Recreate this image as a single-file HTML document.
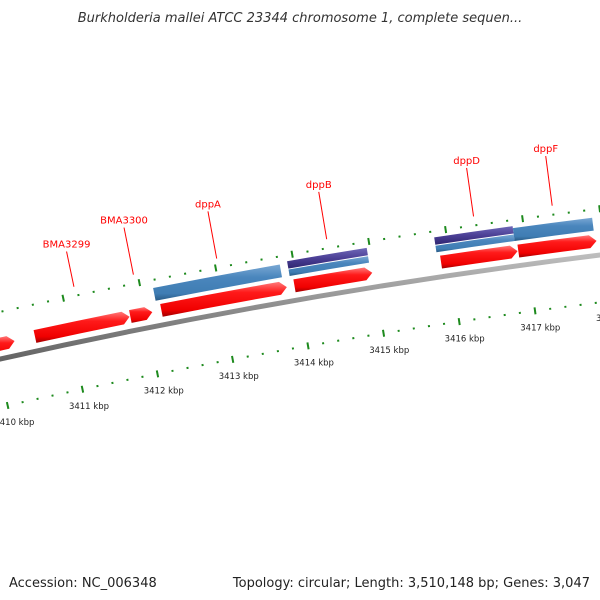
<!DOCTYPE html>
<html><head><meta charset="utf-8"><style>
html,body{margin:0;padding:0;background:#fff;}
svg{display:block;font-family:"DejaVu Sans","Liberation Sans",sans-serif;}
</style></head><body>
<svg id="map" width="600" height="600" viewBox="0 0 600 600" xmlns="http://www.w3.org/2000/svg">
<defs>
<linearGradient id="gRed" x1="0" y1="0" x2="0" y2="1"><stop offset="0" stop-color="#ff7a7a"/><stop offset="0.3" stop-color="#ff1a1a"/><stop offset="0.8" stop-color="#f00000"/><stop offset="1" stop-color="#a00000"/></linearGradient>
<linearGradient id="gBlue" x1="0" y1="0" x2="0" y2="1"><stop offset="0" stop-color="#7aa8d4"/><stop offset="0.35" stop-color="#4a86bd"/><stop offset="0.8" stop-color="#3f7db3"/><stop offset="1" stop-color="#285a85"/></linearGradient>
<linearGradient id="gPurp" x1="0" y1="0" x2="0" y2="1"><stop offset="0" stop-color="#7068b8"/><stop offset="0.5" stop-color="#4b3f95"/><stop offset="1" stop-color="#2e2570"/></linearGradient>
<linearGradient id="gGrey" x1="0" y1="0" x2="0" y2="1"><stop offset="0" stop-color="#c8c8c8"/><stop offset="0.5" stop-color="#8a8a8a"/><stop offset="1" stop-color="#555"/></linearGradient>
</defs>
<text x="300" y="22" text-anchor="middle" font-size="13" font-style="italic" fill="#333">Burkholderia mallei ATCC 23344 chromosome 1, complete sequen...</text>
<g id="layer"></g>
<text x="9" y="587" font-size="13" fill="#222">Accession: NC_006348</text>
<text x="590" y="587" text-anchor="end" font-size="13" fill="#222">Topology: circular; Length: 3,510,148 bp; Genes: 3,047</text>
</svg>
<script>
const geneNames = ["left-gene","BMA3299","BMA3300","dppA","dppB","dppD","dppF"];
const geneStarts = [3409.6,3410.54,3411.80,3412.21,3413.96,3415.88,3416.89];
const geneEnds = [3410.27,3411.79,3412.09,3413.86,3414.98,3416.88,3417.91];
const geneLabels = ["","BMA3299","BMA3300","dppA","dppB","dppD","dppF"];
const labelLen = [0,36,48,48,48,49,50];
const cogStarts = [3412.16,3413.92,3415.84,3416.86];
const cogEnds = [3413.82,3414.96,3416.86,3417.89];
const cogPurple = [false,true,true,false];
const tickStart = 3409.0, tickEnd = 3419.0, tickStep = 0.2;
const kbpLabels = [3410,3411,3412,3413,3414,3415,3416,3417,3418];

const CX=1371.2, CY=6487, R=6279.5, A0=-0.20828, K=0.012285;
function ang(k){return A0+(k-3411)*K;}
function pt(k,r){const a=ang(k);return [CX+r*Math.sin(a), CY-r*Math.cos(a)];}
function f(p){return p[0].toFixed(2)+","+p[1].toFixed(2);}
function band(k1,k2,r1,r2){
  return "M"+f(pt(k1,r2))+" A"+r2+","+r2+" 0 0 1 "+f(pt(k2,r2))+" L"+f(pt(k2,r1))+" A"+r1+","+r1+" 0 0 0 "+f(pt(k1,r1))+" Z";
}
function arrow(k1,k2,r1,r2){
  const h=0.09, kb=Math.max(k1,k2-h), rm=(r1+r2)/2;
  return "M"+f(pt(k1,r2))+" A"+r2+","+r2+" 0 0 1 "+f(pt(kb,r2))+" L"+f(pt(k2,rm))+" L"+f(pt(kb,r1))+" A"+r1+","+r1+" 0 0 0 "+f(pt(k1,r1))+" Z";
}
const NS="http://www.w3.org/2000/svg";
const layer=document.getElementById("layer");
function mk(tag,attrs){const e=document.createElementNS(NS,tag);for(const k in attrs)e.setAttribute(k,attrs[k]);layer.appendChild(e);return e;}

// backbone
let bb=mk("path",{d:band(tickStart,tickEnd,R-2.5,R+2.5),fill:"url(#gGrey)"});



// tick rings
const rings=[R+46,R-47];
rings.forEach((rc,ri)=>{
  const n=Math.round((tickEnd-tickStart)/tickStep);
  for(let i=0;i<=n;i++){
    const k=tickStart+i*tickStep;
    const major=Math.abs(k-Math.round(k))<1e-6;
    const L=major?3.5:1;
    const p1=pt(k,rc-L),p2=pt(k,rc+L);
    const t=mk("line",{x1:p1[0],y1:p1[1],x2:p2[0],y2:p2[1],stroke:"#1d8a1d","stroke-width":2});
    
    
  }
});
kbpLabels.forEach(k=>{
  const p=pt(k,R-64);
  const t=mk("text",{x:p[0]+3,y:p[1]+3,"text-anchor":"middle","font-size":"8.5",fill:"#222"});
  t.textContent=k+" kbp";
  
  
});

// red genes
geneStarts.forEach((s,i)=>{
  const g=mk("path",{d:arrow(s,geneEnds[i],R+8,R+21),fill:"url(#gRed)"});
  
  
});
// COG bands
cogStarts.forEach((s,i)=>{
  if(cogPurple[i]){
    const b=mk("path",{d:band(s,cogEnds[i],R+25,R+31.5),fill:"url(#gBlue)"});
    
    
    const p=mk("path",{d:band(s,cogEnds[i],R+32.5,R+40),fill:"url(#gPurp)"});
    
    
  } else {
    const b=mk("path",{d:band(s,cogEnds[i],R+25,R+38),fill:"url(#gBlue)"});
    
    
  }
});
// labels
geneLabels.forEach((lab,i)=>{
  if(!lab)return;
  const k=(geneStarts[i]+geneEnds[i])/2;
  const r0=R+55, r1=R+55+labelLen[i];
  const p0=pt(k,r0),p1=pt(k,r1);
  const l=mk("line",{x1:p0[0],y1:p0[1],x2:p1[0],y2:p1[1],stroke:"#ff0000","stroke-width":1});
  
  
  const t=mk("text",{x:p1[0],y:p1[1]-4,"text-anchor":"middle","font-size":"10",fill:"#ff0000"});
  t.textContent=lab;
  
  
});
</script>
</body></html>
